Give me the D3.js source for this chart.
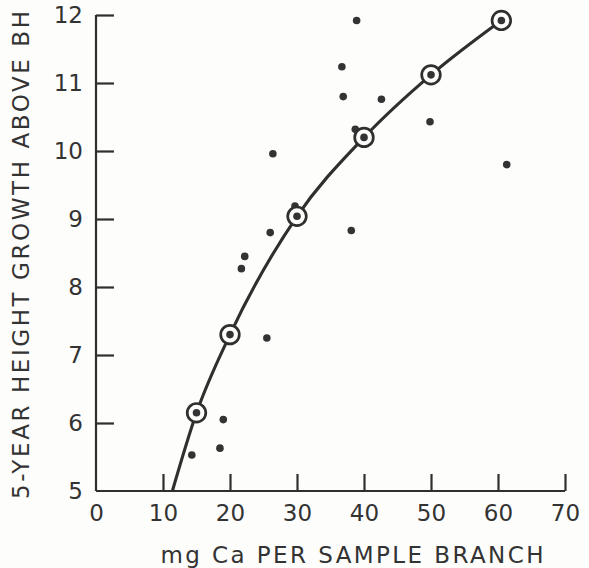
<!DOCTYPE html>
<html>
<head>
<meta charset="utf-8">
<script src="https://cdn.jsdelivr.net/npm/d3@7"></script>
<style>
  html, body { margin: 0; padding: 0; background: #fdfdfb; }
  svg { display: block; }
  text { font-family: "DejaVu Sans", sans-serif; fill: #333; }
</style>
</head>
<body>
<svg id="chart" width="589" height="568"></svg>
<script>
// Mean height growth for each calcium class (circled points, joined by the fitted curve)
const meanCa     = [15, 20, 30, 40, 50, 60.5];
const meanGrowth = [6.15, 7.3, 9.04, 10.2, 11.12, 11.92];

// Where the fitted curve leaves the bottom of the plot
const curveStartCa = 11.4;
const curveStartGrowth = 5;

// Individual sample branches
const sampleCa     = [14.3, 18.5, 19.0, 25.5, 21.7, 22.2, 26.0, 26.4, 29.7, 38.1, 38.7, 36.9, 42.6, 36.7, 38.9, 49.85, 61.3];
const sampleGrowth = [5.53, 5.63, 6.05, 7.25, 8.27, 8.45, 8.80, 9.96, 9.19, 8.83, 10.32, 10.80, 10.76, 11.24, 11.92, 10.43, 9.80];

// Axis ticks
const xTicks = [0, 10, 20, 30, 40, 50, 60, 70];
const yTicks = [5, 6, 7, 8, 9, 10, 11, 12];

const ink = "#2f2f2f";
const fontSize = 23;
const svg = d3.select("#chart");

const x = d3.scaleLinear().domain([0, 70]).range([96, 565]);
const y = d3.scaleLinear().domain([5, 12]).range([491, 15]);

// Axis frame: vertical and horizontal lines meeting at the origin
svg.append("line")
  .attr("x1", x(0)).attr("x2", x(0))
  .attr("y1", y(12)).attr("y2", y(5))
  .attr("stroke", ink).attr("stroke-width", 2.2);
svg.append("line")
  .attr("x1", x(0)).attr("x2", x(70))
  .attr("y1", y(5)).attr("y2", y(5))
  .attr("stroke", ink).attr("stroke-width", 2.2);

// Y axis: ticks pointing into the plot, labels to the left
const yAxis = d3.axisLeft(y)
  .tickValues(yTicks)
  .tickSizeInner(-18)
  .tickSizeOuter(0)
  .tickPadding(13)
  .tickFormat(d3.format("d"));
const gy = svg.append("g").attr("transform", `translate(${x(0)},0)`).call(yAxis);
gy.select(".domain").remove();
gy.selectAll(".tick line").attr("stroke", ink).attr("stroke-width", 2.2)
  .filter(d => d === 5).remove();
gy.selectAll(".tick text").attr("font-size", fontSize).attr("fill", "#333")
  .style("font-family", "DejaVu Sans, sans-serif");

// X axis: ticks pointing up, labels below
const xAxis = d3.axisBottom(x)
  .tickValues(xTicks)
  .tickSizeInner(-17)
  .tickSizeOuter(0)
  .tickPadding(14)
  .tickFormat(d3.format("d"));
const gx = svg.append("g").attr("transform", `translate(0,${y(5)})`).call(xAxis);
gx.select(".domain").remove();
gx.selectAll(".tick line").attr("stroke", ink).attr("stroke-width", 2.2)
  .filter(d => d === 0).remove();
gx.selectAll(".tick text").attr("font-size", fontSize).attr("fill", "#333")
  .style("font-family", "DejaVu Sans, sans-serif");

// Axis titles
svg.append("text")
  .attr("x", 352).attr("y", 563)
  .attr("text-anchor", "middle")
  .attr("font-size", fontSize)
  .attr("textLength", 383).attr("lengthAdjust", "spacing")
  .text("mg Ca PER SAMPLE BRANCH");

svg.append("text")
  .attr("transform", "translate(29,255) rotate(-90)")
  .attr("text-anchor", "middle")
  .attr("font-size", fontSize)
  .attr("textLength", 488).attr("lengthAdjust", "spacing")
  .text("5-YEAR HEIGHT GROWTH ABOVE BH");

// Fitted curve through the class means
const curvePts = [[curveStartCa, curveStartGrowth]].concat(meanCa.map((c, i) => [c, meanGrowth[i]]));
svg.append("path")
  .datum(curvePts)
  .attr("fill", "none")
  .attr("stroke", ink)
  .attr("stroke-width", 3.1)
  .attr("d", d3.line().x(d => x(d[0])).y(d => y(d[1])).curve(d3.curveMonotoneX));

// Individual samples
svg.append("g").selectAll("circle")
  .data(sampleCa.map((c, i) => [c, sampleGrowth[i]]))
  .join("circle")
  .attr("cx", d => x(d[0])).attr("cy", d => y(d[1]))
  .attr("r", 3.8)
  .attr("fill", "#333");

// Circled class means
const means = svg.append("g").selectAll("g")
  .data(meanCa.map((c, i) => [c, meanGrowth[i]]))
  .join("g")
  .attr("transform", d => `translate(${x(d[0])},${y(d[1])})`);
means.append("circle").attr("r", 9.3)
  .attr("fill", "#fdfdfb").attr("stroke", ink).attr("stroke-width", 2.7);
means.append("circle").attr("r", 3.8).attr("fill", "#333");
</script>
</body>
</html>
